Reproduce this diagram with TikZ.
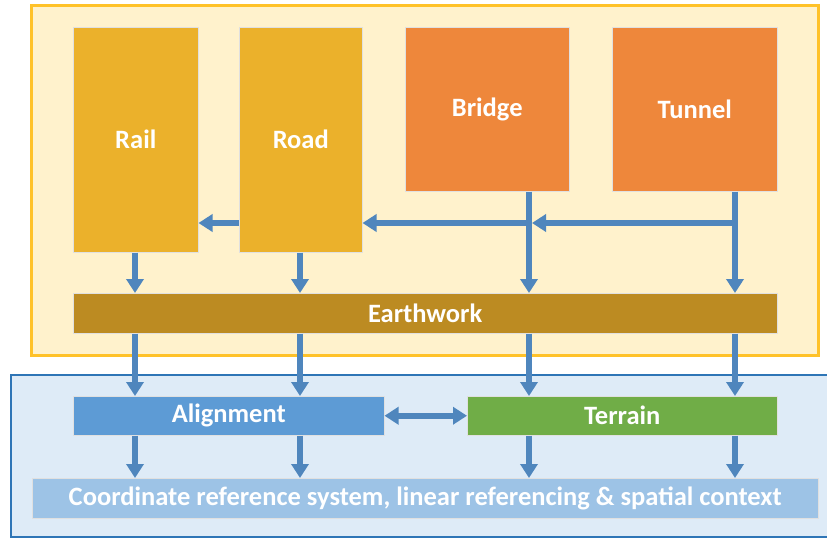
\documentclass[tikz,border=0pt]{standalone}
\usepackage{fontspec}
\setmainfont{Carlito}
\usetikzlibrary{arrows.meta}

\definecolor{railgold}{HTML}{EBB12B}
\definecolor{bridgeorange}{HTML}{EE873B}
\definecolor{earthbrown}{HTML}{BC8B22}
\definecolor{alignblue}{HTML}{5D9BD5}
\definecolor{terraingreen}{HTML}{70AD47}
\definecolor{crsblue}{HTML}{9DC3E6}
\definecolor{flowblue}{HTML}{4F86BD}
\definecolor{panelcream}{HTML}{FFF2CC}
\definecolor{panelgold}{HTML}{FFC229}
\definecolor{panelsky}{HTML}{DEEBF7}
\definecolor{panelblue}{HTML}{2E75B6}

\begin{document}
\begin{tikzpicture}[x=1pt,y=-1pt,
  box/.style={draw=black!12, line width=0.5pt, text=white, inner sep=0pt,
    anchor=north west, font=\bfseries\fontsize{26.5}{30}\selectfont},
  flow/.style={draw=flowblue, line width=6pt, -{Triangle[width=17pt,length=14pt]}},
  twoway/.style={draw=flowblue, line width=6pt,
    {Triangle[width=17pt,length=14pt]}-{Triangle[width=17pt,length=14pt]}}
]
  % Canvas
  \useasboundingbox (0,0) rectangle (827,538);

  % Background panels
  \draw[draw=panelgold, fill=panelcream, line width=3pt] (31,5) rectangle (818,355);
  \draw[draw=panelblue, fill=panelsky, line width=2.2pt] (11,375) rectangle (834,537);

  % Column and row positions
  \coordinate (c1) at (135,0);
  \coordinate (c2) at (300,0);
  \coordinate (c3) at (529,0);
  \coordinate (c4) at (735,0);
  \coordinate (hy) at (0,223);

  % Boxes
  \node[box, fill=railgold, minimum width=125pt, minimum height=225pt] (rail) at (73,27) {Rail};
  \node[box, fill=railgold, minimum width=123pt, minimum height=225pt] (road) at (239,27) {Road};
  \node[box, fill=bridgeorange, minimum width=164pt, minimum height=164pt] (bridge) at (405,27) {Bridge};
  \node[box, fill=bridgeorange, minimum width=165pt, minimum height=164pt] (tunnel) at (612,27) {Tunnel};
  \node[box, fill=earthbrown, minimum width=704pt, minimum height=40pt] (earth) at (73,293) {Earthwork};
  \node[box, fill=alignblue, minimum width=311pt, minimum height=39pt] (align) at (73,396) {Alignment};
  \node[box, fill=terraingreen, minimum width=310pt, minimum height=39pt] (terrain) at (467,396) {Terrain};
  \node[box, fill=crsblue, minimum width=786pt, minimum height=40pt] (crs) at (32,478)
    {Coordinate reference system, linear referencing \& spatial context};

  % Into earthwork
  \draw[flow] (c1 |- rail.south) -- (c1 |- earth.north);
  \draw[flow] (c2 |- road.south) -- (c2 |- earth.north);
  \draw[flow] (c3 |- bridge.south) -- (c3 |- earth.north);
  \draw[flow] (c4 |- tunnel.south) -- (c4 |- earth.north);

  % Sideways links
  \draw[flow] (road.west |- hy) -- (rail.east |- hy);
  \draw[flow] (c3 |- hy) -- (road.east |- hy);
  \draw[flow] (c4 |- hy) -- ([xshift=3pt]c3 |- hy);

  % Earthwork to alignment and terrain
  \draw[flow] (c1 |- earth.south) -- (c1 |- align.north);
  \draw[flow] (c2 |- earth.south) -- (c2 |- align.north);
  \draw[flow] (c3 |- earth.south) -- (c3 |- terrain.north);
  \draw[flow] (c4 |- earth.south) -- (c4 |- terrain.north);
  \draw[twoway] (align.east) -- (terrain.west);

  % Down to the reference layer
  \draw[flow] (c1 |- align.south) -- (c1 |- crs.north);
  \draw[flow] (c2 |- align.south) -- (c2 |- crs.north);
  \draw[flow] (c3 |- terrain.south) -- (c3 |- crs.north);
  \draw[flow] (c4 |- terrain.south) -- (c4 |- crs.north);
\end{tikzpicture}
\end{document}
